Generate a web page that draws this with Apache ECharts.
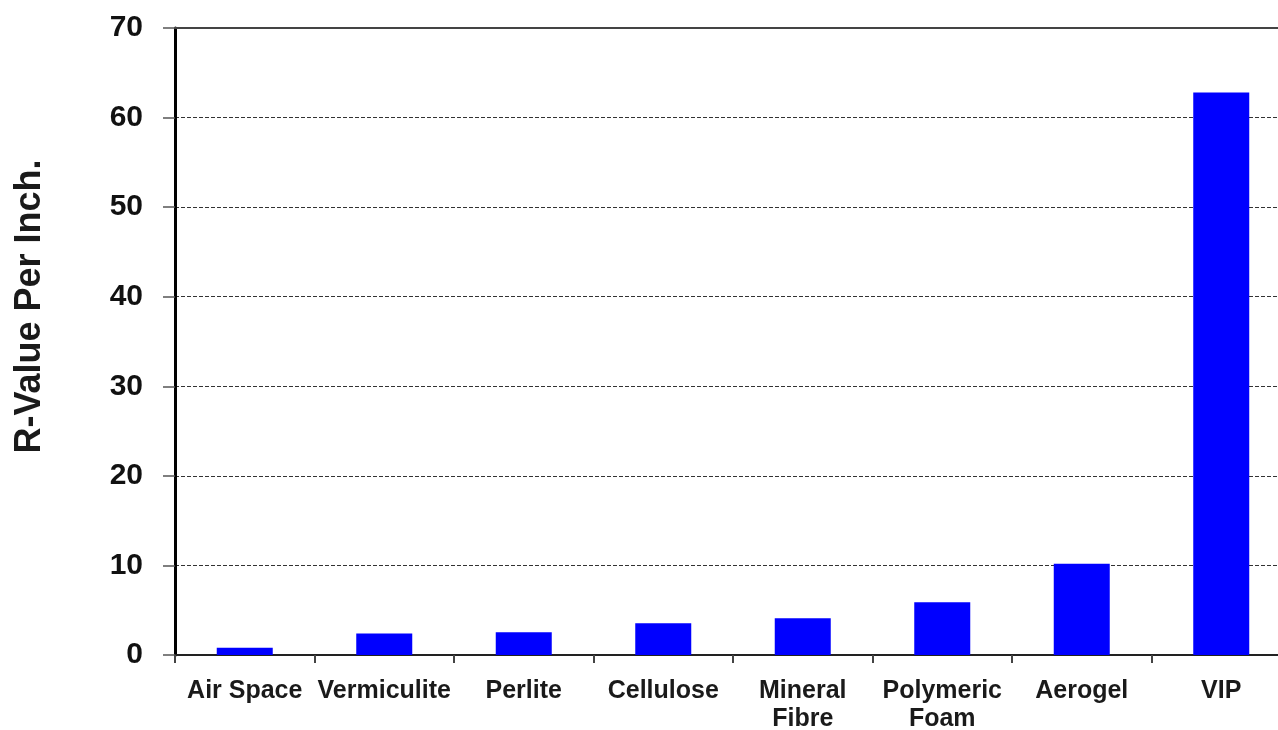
<!DOCTYPE html>
<html><head><meta charset="utf-8">
<script src="https://cdn.jsdelivr.net/npm/echarts@6/dist/echarts.min.js"></script>
<style>html,body{margin:0;padding:0;background:#fff}#c{width:1278px;height:730px}</style>
</head><body><div id="c"></div>
<script>
var categories = ['Air Space', 'Vermiculite', 'Perlite', 'Cellulose', 'Mineral\nFibre', 'Polymeric\nFoam', 'Aerogel', 'VIP'];
var rValues = [0.8, 2.4, 2.55, 3.55, 4.1, 5.9, 10.2, 62.8];
var yTicks = [0, 10, 20, 30, 40, 50, 60, 70];

var FONT = 'Liberation Sans, Arial, sans-serif';
var chart = echarts.init(document.getElementById('c'));
chart.setOption({
  animation: false,
  grid: {left: 175, right: -13, top: 28, bottom: 75, containLabel: false, outerBoundsMode: 'none'},
  xAxis: {
    type: 'category', data: categories,
    axisLine: {lineStyle: {color: '#222', width: 2}},
    axisTick: {show: true, length: 8, lineStyle: {color: '#444', width: 2}},
    axisLabel: {color: '#1a1a1a', fontFamily: FONT, fontWeight: 'bold', fontSize: 25, lineHeight: 28, margin: 22, interval: 0}
  },
  yAxis: {
    type: 'value', min: 0, max: 70, interval: 10,
    name: 'R-Value Per Inch.', nameLocation: 'middle', nameGap: 127, nameRotate: 90,
    nameTextStyle: {color: '#1a1a1a', fontFamily: FONT, fontWeight: 'bold', fontSize: 36, padding: [0, 0, 0, 70]},
    axisLine: {show: true, lineStyle: {color: '#000', width: 3}},
    axisTick: {show: true, length: 12, lineStyle: {color: '#555', width: 1.5}},
    axisLabel: {color: '#111', fontFamily: FONT, fontWeight: 'bold', fontSize: 30, margin: 32,
      formatter: function(v){ return yTicks.indexOf(v) >= 0 ? String(v) : ''; }},
    splitLine: {show: true, lineStyle: {color: '#333', type: [4, 2], width: 1}}
  },
  series: [{
    type: 'bar', data: rValues, barWidth: 56,
    itemStyle: {color: '#0000ff'}
  }, {
    type: 'line', data: [], markLine: {silent: true, symbol: 'none', label: {show: false},
      lineStyle: {color: '#444', type: 'solid', width: 2}, data: [{yAxis: 70}]}
  }]
});
</script></body></html>
